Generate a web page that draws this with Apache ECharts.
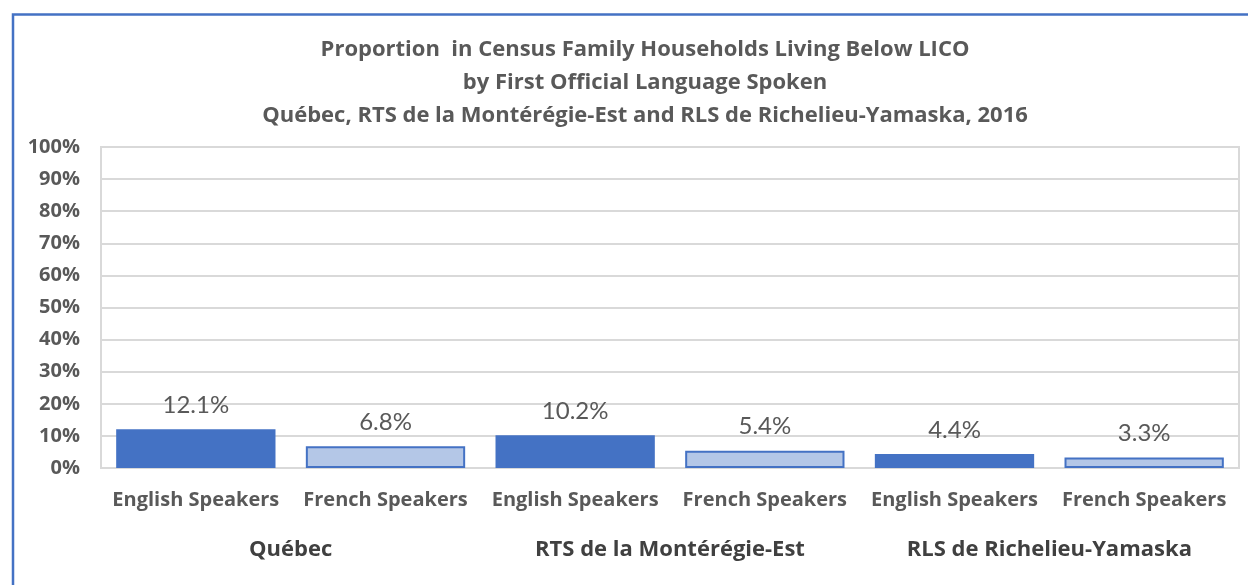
<!DOCTYPE html>
<html>
<head>
<meta charset="utf-8">
<script src="https://cdn.jsdelivr.net/npm/echarts@6/dist/echarts.min.js"></script>
<style>
  html, body { margin: 0; padding: 0; background: #fff; }
  #chart { width: 1248px; height: 585px; }
</style>
</head>
<body>
<div id="chart"></div>
<script>
// data
const speakers = ['English Speakers', 'French Speakers', 'English Speakers', 'French Speakers', 'English Speakers', 'French Speakers'];
const regions = ['Québec', 'RTS de la Montérégie-Est', 'RLS de Richelieu-Yamaska'];
const belowLico = [12.1, 6.8, 10.2, 5.4, 4.4, 3.3];
const titleLines = [
  'Proportion  in Census Family Households Living Below LICO',
  'by First Official Language Spoken',
  'Québec, RTS de la Montérégie-Est and RLS de Richelieu-Yamaska, 2016'
];

const fontFam = '"Open Sans", Lato, sans-serif';
const valueFont = 'Lato, "Open Sans", sans-serif';
const textCol = '#595959';

const chart = echarts.init(document.getElementById('chart'));

// english = dark fill, french = light fill with blue edge
const barData = belowLico.map((v, i) => ({
  value: v,
  itemStyle: i % 2 === 0
    ? { color: '#4472C4', borderWidth: 0 }
    : { color: '#B4C7E7', borderColor: '#4472C4', borderWidth: 2 }
}));

const option = {
  backgroundColor: '#fff',
  animation: false,
  title: {
    text: titleLines.join('\n'),
    left: 640,
    top: 28,
    textAlign: 'center',
    textStyle: {
      fontFamily: fontFam,
      fontSize: 22,
      fontWeight: 'bold',
      color: textCol,
      lineHeight: 33
    }
  },
  graphic: [{
    type: 'rect',
    shape: { x: 13, y: 14.5, width: 1300, height: 700 },
    style: { fill: 'none', stroke: '#4472C4', lineWidth: 2.5 },
    silent: true
  }],
  grid: {
    left: 101,
    right: 9,
    top: 147,
    bottom: 117,
    show: true,
    borderColor: '#D9D9D9',
    borderWidth: 2
  },
  xAxis: [{
    type: 'category',
    data: speakers,
    axisLine: { lineStyle: { color: '#D9D9D9', width: 2 } },
    axisTick: { show: false },
    axisLabel: {
      interval: 0,
      margin: 22,
      fontFamily: fontFam,
      fontSize: 20,
      fontWeight: 'bold',
      color: textCol
    }
  }, {
    type: 'category',
    data: regions,
    position: 'bottom',
    offset: 50,
    axisLine: { show: false },
    axisTick: { show: false },
    axisLabel: {
      interval: 0,
      margin: 21,
      fontFamily: fontFam,
      fontSize: 22,
      fontWeight: 'bold',
      color: '#404040'
    }
  }],
  yAxis: {
    type: 'value',
    min: 0,
    max: 100,
    interval: 10,
    axisLine: { show: true, lineStyle: { color: '#D9D9D9', width: 2 } },
    axisTick: { show: false },
    splitLine: { lineStyle: { color: '#D9D9D9', width: 2 } },
    axisLabel: {
      formatter: '{value}%',
      margin: 21,
      fontFamily: fontFam,
      fontSize: 20,
      fontWeight: 'bold',
      color: textCol
    }
  },
  series: [{
    type: 'bar',
    xAxisIndex: 0,
    data: barData,
    barCategoryGap: '16%',
    label: {
      show: true,
      position: 'top',
      distance: 12,
      formatter: p => p.value.toFixed(1) + '%',
      fontFamily: valueFont,
      fontSize: 24,
      color: textCol
    }
  }]
};

chart.setOption(option);
window.addEventListener('resize', function () {
  chart.resize();
});
</script>
</body>
</html>
